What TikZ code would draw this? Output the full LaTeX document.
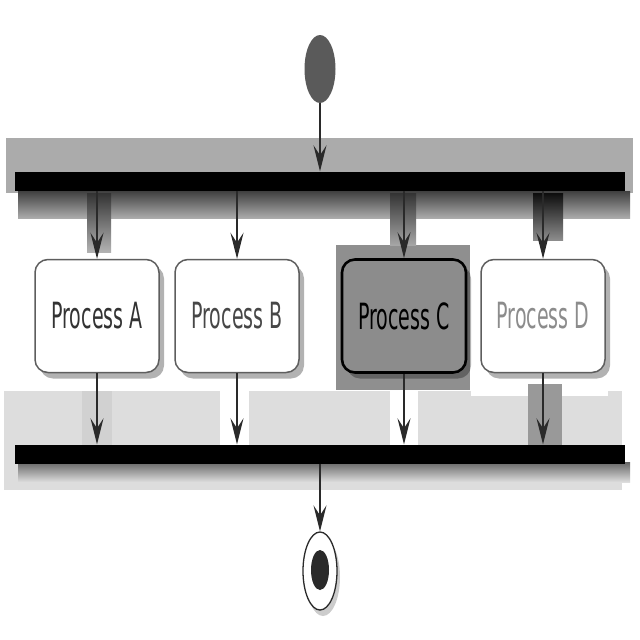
\documentclass[tikz,border=0pt]{standalone}
\usepackage{fontspec}
\setmainfont{DejaVu Sans}
\usetikzlibrary{arrows.meta,shapes.geometric,shadows}
\definecolor{bandfork}{HTML}{ABABAB}
\definecolor{bandjoin}{HTML}{DDDDDD}
\definecolor{bandmid}{HTML}{8F8F8F}
\definecolor{startfill}{HTML}{5A5A5A}
\definecolor{boxline}{HTML}{5E5E5E}
\definecolor{cfill}{HTML}{8C8C8C}
\definecolor{flowline}{HTML}{2A2A2A}
\tikzset{
  bandrect/.style={fill=#1, draw=none},
  fade/.style n args={2}{top color=#1, bottom color=#2, draw=none},
  syncbar/.style={rectangle, fill=black, draw=none, minimum width=610pt, minimum height=19pt, inner sep=0pt},
  actbox/.style={rectangle, rounded corners=13pt, minimum width=124pt, minimum height=113pt, inner sep=0pt,
    fill=white, draw=boxline, line width=1.5pt,
    font=\fontsize{19}{20}\selectfont,
    drop shadow={shadow xshift=5pt, shadow yshift=-6pt, fill=black, opacity=0.3}},
  hotbox/.style={actbox, fill=cfill, draw=black, line width=2.6pt},
  startdot/.style={ellipse, fill=startfill, draw=none, minimum width=31pt, minimum height=68pt, inner sep=0pt},
  endring/.style={ellipse, fill=white, draw=flowline, line width=1.3pt, minimum width=34pt, minimum height=78pt, inner sep=0pt,
    drop shadow={shadow xshift=3pt, shadow yshift=-6pt, fill=black, opacity=0.2}},
  enddot/.style={ellipse, fill=flowline, draw=none, minimum width=18pt, minimum height=40pt, inner sep=0pt},
  flow/.style={draw=flowline, line width=1.2pt, -{Stealth[length=26pt, width=13pt, inset=10pt]}},
}
\newcommand{\tall}[1]{\scalebox{1}[1.9]{#1}}
\begin{document}
\begin{tikzpicture}[x=1pt, y=-1pt]
\useasboundingbox (0,0) rectangle (640,640);
\fill[white] (0,0) rectangle (640,640);

% toned bands behind the synchronisation bars
\fill[bandrect=bandfork] (6,138) rectangle (633,193);
\shade[fade={black!75}{bandfork}] (18,191) rectangle (630,218);
\fill[bandrect=bandjoin] (4,391) rectangle (622,490);
\fill[bandrect=bandmid] (336,245) rectangle (470,390);
\fill[bandrect=white] (471,384) rectangle (608,396);
\fill[bandrect=white] (220,374) rectangle (249,445);
\fill[bandrect=white] (390,391) rectangle (418,445);
\fill[bandrect=black!40] (528,384) rectangle (562,445);
\fill[bandrect=black!18] (82,391) rectangle (112,445);
\shade[fade={black!80}{black!30}] (87,193) rectangle (111,252);
\shade[fade={black!80}{black!35}] (390,193) rectangle (416,245);
\shade[fade={black!95}{black!45}] (533,193) rectangle (563,240);
\shade[fade={black!60}{bandjoin}] (18,462) rectangle (630,482);

% start, fork, activities, join, end
\node[startdot] (start) at (320,69) {};
\node[syncbar] (fork) at (320,181) {};

\node[actbox, text=black!80] (pa) at (97,316) {\tall{Process A}};
\node[actbox, text=black!72] (pb) at (237,316) {\tall{Process B}};
\node[hotbox, text=black] (pc) at (404,316) {\tall{Process C}};
\node[actbox, text=black!45] (pd) at (543,316) {\tall{Process D}};

\node[syncbar] (join) at (320,454) {};

\node[endring] (stop) at (320,571) {};
\node[enddot] (stopdot) at (320,570) {};

% control flow
\draw[flow] (start.south) -- (fork.north);
\draw[flow] (fork.south -| pa.north) -- (pa.north);
\draw[flow] (fork.south -| pb.north) -- (pb.north);
\draw[flow] (fork.south -| pc.north) -- (pc.north);
\draw[flow] (fork.south -| pd.north) -- (pd.north);
\draw[flow] (pa.south) -- (join.north -| pa.south);
\draw[flow] (pb.south) -- (join.north -| pb.south);
\draw[flow] (pc.south) -- (join.north -| pc.south);
\draw[flow] (pd.south) -- (join.north -| pd.south);
\draw[flow] (join.south) -- (stop.north);
\end{tikzpicture}
\end{document}
